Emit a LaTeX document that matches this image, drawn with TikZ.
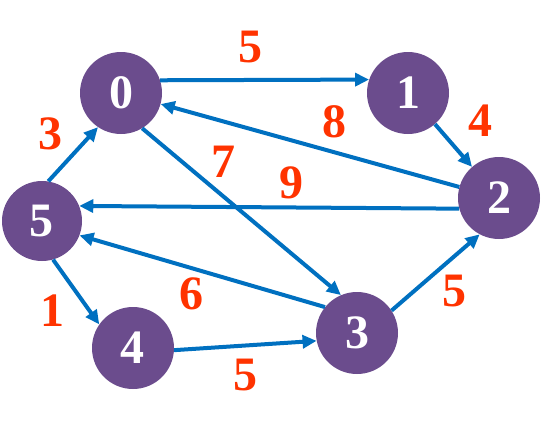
\documentclass[tikz,border=0pt]{standalone}
\usepackage{fontspec}
\setmainfont{Liberation Serif}
\usetikzlibrary{arrows.meta}
\definecolor{vpurple}{RGB}{107,76,141}
\definecolor{eblue}{RGB}{0,112,192}
\definecolor{wred}{RGB}{255,51,0}
\tikzset{
  vert/.style={circle, fill=vpurple, minimum size=82pt, inner sep=0pt, text=white, font=\fontsize{48}{48}\selectfont\bfseries},
  edge/.style={draw=eblue, line width=4pt, -{Triangle[length=14pt,width=13pt]}, shorten >=0pt},
  wlab/.style={text=wred, font=\fontsize{48}{48}\selectfont\bfseries, inner sep=0pt}
}
\begin{document}
\begin{tikzpicture}[x=1pt,y=-1pt]
\useasboundingbox (0,0) rectangle (542,432);
\node[vert] (n0) at (121,93) {0};
\node[vert] (n1) at (408,93) {1};
\node[vert] (n2) at (499,198) {2};
\node[vert, minimum size=80pt] (n5) at (42,221) {5};
\node[vert] (n4) at (133,348) {4};
\node[vert] (n3) at (357,333) {3};

\draw[edge] (n0.18.5) -- (n1.161.5);
\draw[edge] (n1) -- (n2);
\draw[edge] (n2) -- (n0);
\draw[edge] (n2.195) -- (n5.22);
\draw[edge] (n0.-59) -- (n3.113);
\draw[edge] (n3.141) -- (n5.-21);
\draw[edge] (n5.81) -- (n0.236);
\draw[edge] (n5.-74) -- (n4.145);
\draw[edge] (n4.-3) -- (n3.191);
\draw[edge] (n3.33) -- (n2.-118);

\node[wlab] (l01) at (250,47) {5};
\node[wlab] (l12) at (480,121) {4};
\node[wlab] (l20) at (334,122) {8};
\node[wlab] (l25) at (291,183) {9};
\node[wlab] (l03) at (223,162) {7};
\node[wlab] (l35) at (191,294) {6};
\node[wlab] (l50) at (50,134) {3};
\node[wlab] (l54) at (53,311) {1};
\node[wlab] (l43) at (245,375) {5};
\node[wlab] (l32) at (454,291) {5};
\end{tikzpicture}
\end{document}
